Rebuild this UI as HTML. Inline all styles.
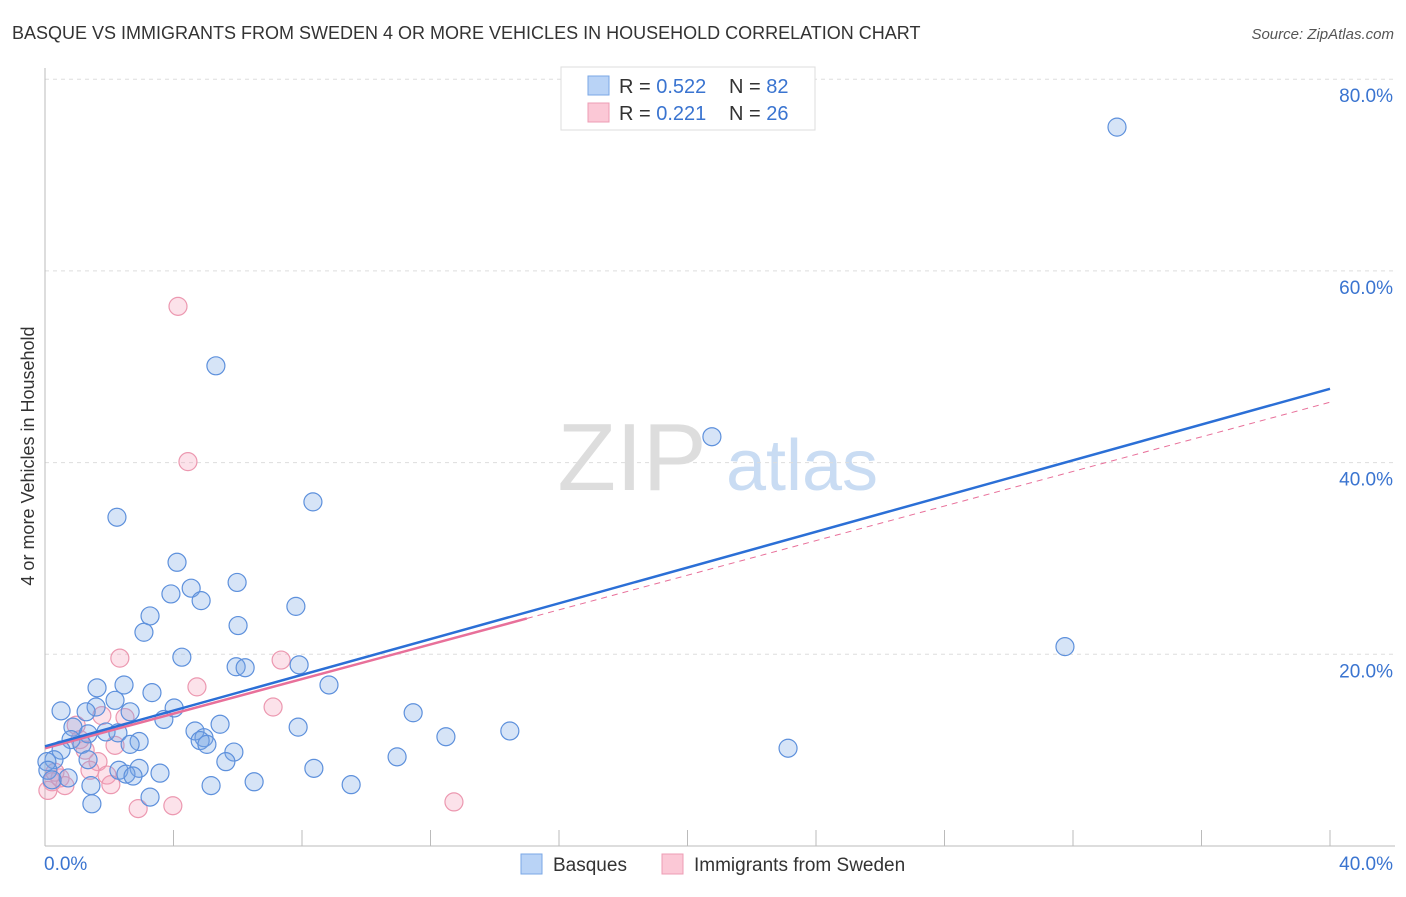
<!DOCTYPE html>
<html><head><meta charset="utf-8"><style>
body{margin:0;background:#fff;font-family:"Liberation Sans",sans-serif;}
svg text{font-family:"Liberation Sans",sans-serif;}
</style></head><body>
<svg id="chart" width="1406" height="892" xmlns="http://www.w3.org/2000/svg">
<text x="12" y="39" font-size="18" fill="#333">BASQUE VS IMMIGRANTS FROM SWEDEN 4 OR MORE VEHICLES IN HOUSEHOLD CORRELATION CHART</text>
<text x="1394" y="39" font-size="15" fill="#555" text-anchor="end" font-style="italic">Source: ZipAtlas.com</text>
<text transform="translate(34,456) rotate(-90)" font-size="18" fill="#333" text-anchor="middle">4 or more Vehicles in Household</text>
<g>
<text x="632" y="490" font-size="96" fill="#ddd" font-family="Liberation Serif" text-anchor="middle">ZIP</text>
<text x="802" y="490" font-size="72" fill="#c9dcf3" text-anchor="middle">atlas</text>
</g>
<g id="grid"></g><g id="axes"></g><g id="marks"></g>
<g>
<rect x="561" y="67" width="254" height="63" fill="#fff" stroke="#ddd"/>
<rect x="588" y="76" width="21" height="19" fill="#b9d3f6" stroke="#7aa7e6"/>
<rect x="588" y="103" width="21" height="19" fill="#fbc8d6" stroke="#ee9db4"/>
<text x="619" y="93" font-size="20" fill="#333">R = <tspan fill="#3a74d0">0.522</tspan></text>
<text x="729" y="93" font-size="20" fill="#333">N = <tspan fill="#3a74d0">82</tspan></text>
<text x="619" y="120" font-size="20" fill="#333">R = <tspan fill="#3a74d0"> 0.221</tspan></text>
<text x="729" y="120" font-size="20" fill="#333">N = <tspan fill="#3a74d0">26</tspan></text>
</g>
<g>
<rect x="521" y="854" width="21" height="20" fill="#b9d3f6" stroke="#7aa7e6"/>
<text x="553" y="871" font-size="19" fill="#333">Basques</text>
<rect x="662" y="854" width="21" height="20" fill="#fbc8d6" stroke="#ee9db4"/>
<text x="694" y="871" font-size="19" fill="#333">Immigrants from Sweden</text>
</g>
</svg>
<script>
const yTicks=[20,40,60,80];
const yTickLabels=["20.0%","40.0%","60.0%","80.0%"];
const xTicks=[0,4,8,12,16,20,24,28,32,36,40];
const blueX=[33.37,5.32,20.76,8.34,2.24,4.11,5.98,4.55,3.92,4.86,7.81,3.27,6.01,3.08,31.75,4.26,5.95,6.23,7.91,2.46,8.84,1.62,3.33,2.18,4.02,0.50,1.59,1.28,2.65,11.46,3.70,5.45,0.87,7.88,14.47,4.67,1.90,12.48,4.95,2.27,4.83,1.34,0.81,2.93,2.65,5.04,1.15,23.13,0.50,5.88,10.96,0.28,1.34,5.63,0.06,8.37,2.93,2.30,3.58,2.52,2.74,0.72,6.51,5.17,1.43,9.53,3.27,1.46,0.09,0.22];
const blueY=[75.0,50.1,42.7,35.9,34.3,29.6,27.5,26.9,26.3,25.6,25.0,24.0,23.0,22.3,20.8,19.7,18.7,18.6,18.9,16.8,16.8,16.5,16.0,15.2,14.4,14.1,14.5,14.0,14.0,13.9,13.2,12.7,12.4,12.4,12.0,12.0,11.9,11.4,11.3,11.8,11.0,11.7,11.1,10.9,10.6,10.6,10.6,10.2,10.0,9.8,9.3,9.0,9.0,8.8,8.8,8.1,8.1,7.9,7.6,7.5,7.3,7.1,6.7,6.3,6.3,6.4,5.1,4.4,7.9,6.9];
const pinkX=[4.14,4.45,2.33,7.35,4.73,7.10,1.77,0.97,2.18,1.25,1.65,1.93,0.47,0.62,2.05,0.22,0.09,3.98,2.90,12.73,1.40,1.09,0.31,2.49];
const pinkY=[56.3,40.1,19.6,19.4,16.6,14.5,13.6,12.6,10.5,10.0,8.8,7.4,7.1,6.3,6.4,6.7,5.8,4.2,3.9,4.6,7.9,11.1,7.7,13.4];
const blueTrend=[10.4,47.7];
const pinkTrend=[10.2,46.3];
const pinkSolidEnd=15.0;
const NS="http://www.w3.org/2000/svg";
const X=v=>45+v/40*1285, Y=v=>846-v/20*191.7;
function mk(t,a,p){const e=document.createElementNS(NS,t);for(const k in a)e.setAttribute(k,a[k]);p.appendChild(e);return e;}
const grid=document.getElementById('grid'),axes=document.getElementById('axes'),marks=document.getElementById('marks');
yTicks.forEach((t,i)=>{
 const l=mk('line',{x1:45,x2:1395,y1:Y(t),y2:Y(t),stroke:'#ddd','stroke-dasharray':'4,4'},grid);
 
 
 const tx=mk('text',{x:1393,y:Y(t)+23,'font-size':19,fill:'#3a74d0','text-anchor':'end'},axes);
 tx.textContent=yTickLabels[i];
 
 
});
const ya=mk('line',{x1:45,x2:45,y1:68,y2:846,stroke:'#bbb'},axes);


const xa=mk('line',{x1:45,x2:1395,y1:846,y2:846,stroke:'#bbb'},axes);


xTicks.forEach(t=>{const l=mk('line',{x1:X(t),x2:X(t),y1:830,y2:846,stroke:'#bbb'},axes);
 
 });
const x0=mk('text',{x:44,y:870,'font-size':19,fill:'#3a74d0'},axes);x0.textContent='0.0%';


const x1=mk('text',{x:1393,y:870,'font-size':19,fill:'#3a74d0','text-anchor':'end'},axes);x1.textContent='40.0%';


pinkX.forEach((v,i)=>{const c=mk('circle',{cx:X(v),cy:Y(pinkY[i]),r:9,fill:'rgba(245,160,185,0.3)',stroke:'#ec98b0','stroke-width':1.2},marks);
 
 });
blueX.forEach((v,i)=>{const c=mk('circle',{cx:X(v),cy:Y(blueY[i]),r:9,fill:'rgba(120,165,230,0.3)',stroke:'#5d90dc','stroke-width':1.2},marks);
 
 });
const pf=x=>pinkTrend[0]+(pinkTrend[1]-pinkTrend[0])*x/40;
const pd=mk('line',{x1:X(pinkSolidEnd),y1:Y(pf(pinkSolidEnd)),x2:X(40),y2:Y(pinkTrend[1]),stroke:'#e8709a','stroke-width':1,'stroke-dasharray':'6,5'},marks);


const ps=mk('line',{x1:X(0),y1:Y(pinkTrend[0]),x2:X(pinkSolidEnd),y2:Y(pf(pinkSolidEnd)),stroke:'#e8709a','stroke-width':2.5},marks);


const bl=mk('line',{x1:X(0),y1:Y(blueTrend[0]),x2:X(40),y2:Y(blueTrend[1]),stroke:'#2b6fd6','stroke-width':2.5},marks);


</script>
</body></html>
